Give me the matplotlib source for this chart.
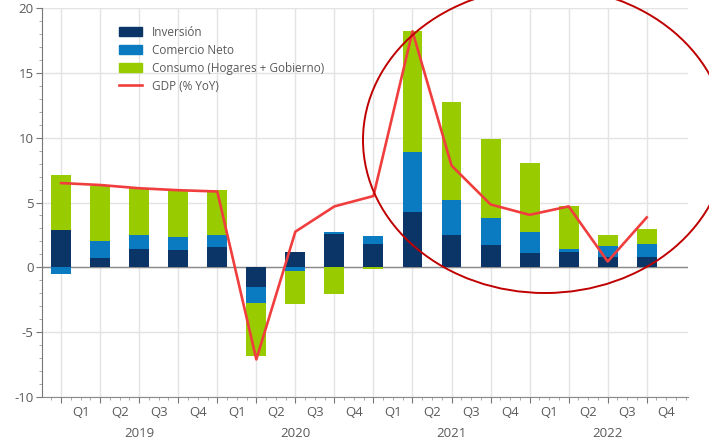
import numpy as np
import matplotlib.pyplot as plt
from matplotlib.patches import Patch, Ellipse
from matplotlib.lines import Line2D

# datos (contribucion al crecimiento, %)
trimestres = ["Q1", "Q2", "Q3", "Q4"] * 4
anios = ["2019", "2020", "2021", "2022"]
inversion = [2.9, 0.7, 1.43, 1.35, 1.6, -1.55, 1.15, 2.55, 1.8, 4.3, 2.5, 1.73, 1.09, 1.22, 0.76, 0.76]
comercio = [-0.5, 1.3, 1.07, 0.98, 0.9, -1.22, -0.27, 0.2, 0.65, 4.63, 2.7, 2.06, 1.62, 0.21, 0.9, 1.03]
consumo = [4.25, 4.25, 3.6, 3.59, 3.47, -4.03, -2.53, -2.05, -0.15, 9.33, 7.54, 6.09, 5.32, 3.31, 0.84, 1.18]
gdp = [6.5, 6.35, 6.1, 5.95, 5.85, -7.1, 2.75, 4.7, 5.5, 18.2, 7.85, 4.85, 4.05, 4.7, 0.45, 3.85]

c_inv = "#0b3566"
c_com = "#0a7bc0"
c_cons = "#99cc00"
c_gdp = "#f03e3e"
gris = "#5a5a5a"

plt.rcParams['font.family'] = ['Open Sans', 'DejaVu Sans']
plt.rcParams['axes.unicode_minus'] = False

fig = plt.figure(figsize=(7.09, 4.40), dpi=100)
ax = fig.add_axes([0.0592, 0.0977, 0.9108, 0.8841])

x = np.arange(len(gdp))
pos = np.zeros(len(gdp))
neg = np.zeros(len(gdp))
for serie, col in [(inversion, c_inv), (comercio, c_com), (consumo, c_cons)]:
    v = np.array(serie)
    base = np.where(v >= 0, pos, neg)
    ax.bar(x, v, width=0.51, bottom=base, color=col, zorder=3)
    pos = pos + np.where(v >= 0, v, 0)
    neg = neg + np.where(v < 0, v, 0)

ax.plot(x, gdp, color=c_gdp, lw=1.9, zorder=4)
ax.axhline(0, color="#8a8a8a", lw=1.0, zorder=2)

ax.set_xlim(-0.49, 16.05)
ax.set_ylim(-10, 20)
ax.set_yticks(np.arange(-10, 21, 5))
ax.set_yticks(np.arange(-10, 21, 1), minor=True)
ax.set_xticks(x)
ax.set_xticks(np.arange(-0.25, 16.01, 0.25), minor=True)
ax.set_xticklabels([])
ax.grid(True, which="major", color="#e3e3e3", lw=1.0, zorder=0)
ax.tick_params(axis="both", which="major", direction="out", length=4, color="#777777",
               labelcolor=gris, labelsize=9.5)
ax.tick_params(axis="both", which="minor", direction="out", length=2, color="#999999")
ax.tick_params(axis="y", pad=2)
for s in ["top", "right"]:
    ax.spines[s].set_visible(False)
ax.spines["left"].set_color("#777777")
ax.spines["bottom"].set_color("#8a8a8a")

tr = ax.get_xaxis_transform()
for i, q in enumerate(trimestres):
    ax.text(i + 0.5, -0.04, q, transform=tr, ha="center", va="center", fontsize=9.5, color=gris)
for k, a in enumerate(anios):
    ax.text(4 * k + 2, -0.093, a, transform=tr, ha="center", va="center", fontsize=9.5, color=gris)

handles = [Patch(color=c_inv), Patch(color=c_com), Patch(color=c_cons),
           Line2D([], [], color=c_gdp, lw=1.9)]
labels = ["Inversión", "Comercio Neto", "Consumo (Hogares + Gobierno)", "GDP (% YoY)"]
leg = ax.legend(handles, labels, loc="upper left", bbox_to_anchor=(0.103, 0.982), frameon=False,
                fontsize=8.5, labelspacing=0.42, handlelength=1.9, handleheight=0.85,
                handletextpad=0.9)
for t in leg.get_texts():
    t.set_color(gris)

# elipse roja de anotacion
el = Ellipse((545 / 709, 1 - 140 / 440), 364 / 709, 306 / 440, transform=fig.transFigure,
             fill=False, edgecolor="#c00000", lw=1.4, clip_on=False, zorder=10)
fig.patches.append(el)

fig.savefig("out.png", dpi=100)
